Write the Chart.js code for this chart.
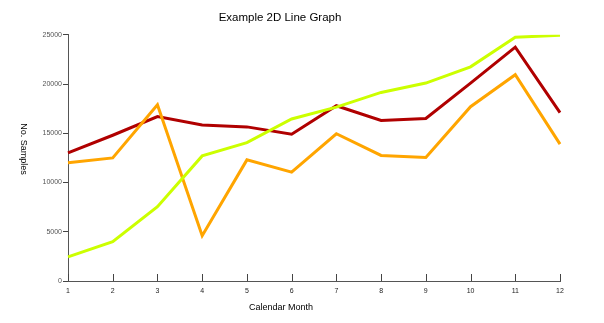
<!DOCTYPE html>
<html>
<head>
<meta charset="utf-8">
<script src="https://cdn.jsdelivr.net/npm/chart.js@4/dist/chart.umd.min.js"></script>
<style>
  html, body { margin: 0; padding: 0; background: #fff; }
  #wrap { width: 604px; height: 323px; }
</style>
</head>
<body>
<div id="wrap"><canvas id="chart" width="604" height="323"></canvas></div>
<script>
const months = ['1', '2', '3', '4', '5', '6', '7', '8', '9', '10', '11', '12'];
const redSeries = [13000, 14800, 16700, 15850, 15650, 14900, 17800, 16300, 16500, 20100, 23750, 17100];
const orangeSeries = [12000, 12500, 17900, 4600, 12300, 11050, 14950, 12750, 12550, 17700, 20950, 13900];
const greenSeries = [2450, 4000, 7550, 12700, 14050, 16450, 17650, 19150, 20100, 21750, 24750, 24950];
const yTicks = [0, 5000, 10000, 15000, 20000, 25000];

const FONT = 'Arial, "Liberation Sans", sans-serif';

// axis titles sit off-centre in the original, so draw them by hand
const axisTitles = {
  id: 'axisTitles',
  afterDraw(chart) {
    const ctx = chart.ctx;
    ctx.save();
    ctx.fillStyle = '#000';
    ctx.font = '9px ' + FONT;
    ctx.textAlign = 'center';
    ctx.textBaseline = 'middle';
    ctx.fillText('Calendar Month', 281, 308);
    ctx.translate(23, 149);
    ctx.rotate(Math.PI / 2);
    ctx.fillText('No. Samples', 0, 0);
    ctx.restore();
  }
};

// month ticks point up into the plot
const upTicks = {
  id: 'upTicks',
  afterDraw(chart) {
    const x = chart.scales.x;
    const ctx = chart.ctx;
    ctx.save();
    ctx.strokeStyle = '#444';
    ctx.lineWidth = 1;
    x.ticks.forEach((t, i) => {
      const px = Math.round(x.getPixelForTick(i)) + 0.5;
      ctx.beginPath();
      ctx.moveTo(px, x.top);
      ctx.lineTo(px, x.top - 7);
      ctx.stroke();
    });
    ctx.restore();
  }
};

const mkSet = (data, color) => ({
  data,
  borderColor: color,
  backgroundColor: color,
  borderWidth: 3,
  pointRadius: 0,
  tension: 0,
  fill: false,
});

new Chart(document.getElementById('chart'), {
  type: 'line',
  data: {
    labels: months,
    datasets: [
      mkSet(greenSeries, '#ccff00'),
      mkSet(orangeSeries, '#ffa500'),
      mkSet(redSeries, '#b00000'),
    ]
  },
  options: {
    responsive: false,
    animation: false,
    layout: { padding: { left: 0, right: 44, top: 0, bottom: 0 } },
    plugins: {
      legend: { display: false },
      tooltip: { enabled: false },
      title: {
        display: true,
        text: 'Example 2D Line Graph',
        color: '#000',
        font: { family: FONT, size: 11.5, weight: 'normal' },
        padding: { top: 11, bottom: 10 },
      }
    },
    scales: {
      x: {
        type: 'category',
        offset: false,
        afterFit: s => { s.height = 42; },
        grid: { display: false, drawTicks: false },
        border: { display: true, color: '#555', width: 1 },
        ticks: { color: '#222', font: { family: FONT, size: 7 }, padding: 6, maxRotation: 0, autoSkip: false }
      },
      y: {
        min: 0,
        max: 25000,
        afterFit: s => { s.width = 68; },
        afterBuildTicks: s => { s.ticks = yTicks.map(v => ({ value: v })); },
        grid: { drawOnChartArea: false, drawTicks: true, tickLength: 5, color: '#444' },
        border: { display: true, color: '#555', width: 1 },
        ticks: { color: '#555', font: { family: FONT, size: 7 }, padding: 1, callback: v => String(v) }
      }
    }
  },
  plugins: [axisTitles, upTicks]
});
</script>
</body>
</html>
